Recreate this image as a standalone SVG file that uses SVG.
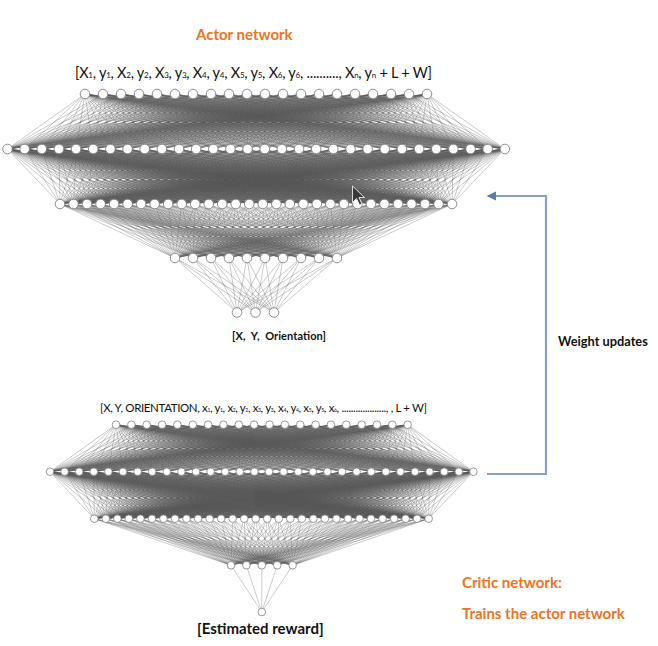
<svg xmlns="http://www.w3.org/2000/svg" width="658" height="646" viewBox="0 0 658 646">
<style>
.e{fill:none;stroke:#5a5a5a;stroke-width:0.32;vector-effect:non-scaling-stroke}
.na circle{fill:#fff;stroke:#808080;stroke-width:0.9}
.nc circle{fill:#fff;stroke:#808080;stroke-width:0.8}
.t{font-family:Lato,"Open Sans","Liberation Sans",sans-serif}
.or{fill:#F07322;font-weight:bold;font-size:15px}
.bk{fill:#111}
.b{font-weight:bold}
</style>
<defs>
<path id="fA2" class="e" d="M0 1L7.5 0M0 1L24.65 0M0 1L41.8 0M0 1L58.95 0M0 1L76.1 0M0 1L93.25 0M0 1L110.4 0M0 1L127.55 0M0 1L144.7 0M0 1L161.85 0M0 1L179 0M0 1L196.15 0M0 1L213.3 0M0 1L230.45 0M0 1L247.6 0M0 1L264.75 0M0 1L281.9 0M0 1L299.05 0M0 1L316.2 0M0 1L333.35 0M0 1L350.5 0M0 1L367.65 0M0 1L384.8 0M0 1L401.95 0M0 1L419.1 0M0 1L436.25 0M0 1L453.4 0M0 1L470.55 0M0 1L487.7 0M0 1L504.85 0"/>
<path id="fA3" class="e" d="M0 1L60 0M0 1L73.52 0M0 1L87.04 0M0 1L100.56 0M0 1L114.08 0M0 1L127.6 0M0 1L141.12 0M0 1L154.64 0M0 1L168.16 0M0 1L181.68 0M0 1L195.2 0M0 1L208.72 0M0 1L222.24 0M0 1L235.76 0M0 1L249.28 0M0 1L262.8 0M0 1L276.32 0M0 1L289.84 0M0 1L303.36 0M0 1L316.88 0M0 1L330.4 0M0 1L343.92 0M0 1L357.44 0M0 1L370.96 0M0 1L384.48 0M0 1L398 0M0 1L411.52 0M0 1L425.04 0M0 1L438.56 0M0 1L452.08 0"/>
<path id="fA4" class="e" d="M0 1L175 0M0 1L193 0M0 1L211 0M0 1L229 0M0 1L247 0M0 1L265 0M0 1L283 0M0 1L301 0M0 1L319 0M0 1L337 0"/>
<path id="fC2" class="e" d="M0 1L50 0M0 1L64.6 0M0 1L79.2 0M0 1L93.8 0M0 1L108.4 0M0 1L123 0M0 1L137.6 0M0 1L152.2 0M0 1L166.8 0M0 1L181.4 0M0 1L196 0M0 1L210.6 0M0 1L225.2 0M0 1L239.8 0M0 1L254.4 0M0 1L269 0M0 1L283.6 0M0 1L298.2 0M0 1L312.8 0M0 1L327.4 0M0 1L342 0M0 1L356.6 0M0 1L371.2 0M0 1L385.8 0M0 1L400.4 0M0 1L415 0M0 1L429.6 0M0 1L444.2 0M0 1L458.8 0M0 1L473.4 0"/>
<path id="fC3" class="e" d="M0 1L94.3 0M0 1L105.83 0M0 1L117.36 0M0 1L128.89 0M0 1L140.42 0M0 1L151.95 0M0 1L163.48 0M0 1L175.01 0M0 1L186.54 0M0 1L198.07 0M0 1L209.6 0M0 1L221.13 0M0 1L232.66 0M0 1L244.19 0M0 1L255.72 0M0 1L267.25 0M0 1L278.78 0M0 1L290.31 0M0 1L301.84 0M0 1L313.37 0M0 1L324.9 0M0 1L336.43 0M0 1L347.96 0M0 1L359.49 0M0 1L371.02 0M0 1L382.55 0M0 1L394.08 0M0 1L405.61 0M0 1L417.14 0M0 1L428.67 0"/>
<path id="fC4" class="e" d="M0 1L231 0M0 1L246.4 0M0 1L261.8 0M0 1L277.2 0M0 1L292.6 0"/>
</defs>
<g id="connectors">
<g id="actor-edges">
<g transform="translate(0 149)">
<use href="#fA2" transform="matrix(1 0 85 -55 0 0)"/><use href="#fA2" transform="matrix(1 0 103 -55 0 0)"/><use href="#fA2" transform="matrix(1 0 121 -55 0 0)"/><use href="#fA2" transform="matrix(1 0 139 -55 0 0)"/><use href="#fA2" transform="matrix(1 0 157 -55 0 0)"/><use href="#fA2" transform="matrix(1 0 175 -55 0 0)"/><use href="#fA2" transform="matrix(1 0 193 -55 0 0)"/><use href="#fA2" transform="matrix(1 0 211 -55 0 0)"/><use href="#fA2" transform="matrix(1 0 229 -55 0 0)"/><use href="#fA2" transform="matrix(1 0 247 -55 0 0)"/><use href="#fA2" transform="matrix(1 0 265 -55 0 0)"/><use href="#fA2" transform="matrix(1 0 283 -55 0 0)"/><use href="#fA2" transform="matrix(1 0 301 -55 0 0)"/><use href="#fA2" transform="matrix(1 0 319 -55 0 0)"/><use href="#fA2" transform="matrix(1 0 337 -55 0 0)"/><use href="#fA2" transform="matrix(1 0 355 -55 0 0)"/><use href="#fA2" transform="matrix(1 0 373 -55 0 0)"/><use href="#fA2" transform="matrix(1 0 391 -55 0 0)"/><use href="#fA2" transform="matrix(1 0 409 -55 0 0)"/><use href="#fA2" transform="matrix(1 0 427 -55 0 0)"/>
<use href="#fA2" transform="matrix(1 0 60 55 0 0)"/><use href="#fA2" transform="matrix(1 0 73.52 55 0 0)"/><use href="#fA2" transform="matrix(1 0 87.04 55 0 0)"/><use href="#fA2" transform="matrix(1 0 100.56 55 0 0)"/><use href="#fA2" transform="matrix(1 0 114.08 55 0 0)"/><use href="#fA2" transform="matrix(1 0 127.6 55 0 0)"/><use href="#fA2" transform="matrix(1 0 141.12 55 0 0)"/><use href="#fA2" transform="matrix(1 0 154.64 55 0 0)"/><use href="#fA2" transform="matrix(1 0 168.16 55 0 0)"/><use href="#fA2" transform="matrix(1 0 181.68 55 0 0)"/><use href="#fA2" transform="matrix(1 0 195.2 55 0 0)"/><use href="#fA2" transform="matrix(1 0 208.72 55 0 0)"/><use href="#fA2" transform="matrix(1 0 222.24 55 0 0)"/><use href="#fA2" transform="matrix(1 0 235.76 55 0 0)"/><use href="#fA2" transform="matrix(1 0 249.28 55 0 0)"/><use href="#fA2" transform="matrix(1 0 262.8 55 0 0)"/><use href="#fA2" transform="matrix(1 0 276.32 55 0 0)"/><use href="#fA2" transform="matrix(1 0 289.84 55 0 0)"/><use href="#fA2" transform="matrix(1 0 303.36 55 0 0)"/><use href="#fA2" transform="matrix(1 0 316.88 55 0 0)"/><use href="#fA2" transform="matrix(1 0 330.4 55 0 0)"/><use href="#fA2" transform="matrix(1 0 343.92 55 0 0)"/><use href="#fA2" transform="matrix(1 0 357.44 55 0 0)"/><use href="#fA2" transform="matrix(1 0 370.96 55 0 0)"/><use href="#fA2" transform="matrix(1 0 384.48 55 0 0)"/><use href="#fA2" transform="matrix(1 0 398 55 0 0)"/><use href="#fA2" transform="matrix(1 0 411.52 55 0 0)"/><use href="#fA2" transform="matrix(1 0 425.04 55 0 0)"/><use href="#fA2" transform="matrix(1 0 438.56 55 0 0)"/><use href="#fA2" transform="matrix(1 0 452.08 55 0 0)"/>
</g>
<g transform="translate(0 204)">
<use href="#fA3" transform="matrix(1 0 175 54 0 0)"/><use href="#fA3" transform="matrix(1 0 193 54 0 0)"/><use href="#fA3" transform="matrix(1 0 211 54 0 0)"/><use href="#fA3" transform="matrix(1 0 229 54 0 0)"/><use href="#fA3" transform="matrix(1 0 247 54 0 0)"/><use href="#fA3" transform="matrix(1 0 265 54 0 0)"/><use href="#fA3" transform="matrix(1 0 283 54 0 0)"/><use href="#fA3" transform="matrix(1 0 301 54 0 0)"/><use href="#fA3" transform="matrix(1 0 319 54 0 0)"/><use href="#fA3" transform="matrix(1 0 337 54 0 0)"/>
</g>
<g transform="translate(0 258)">
<use href="#fA4" transform="matrix(1 0 237 54.5 0 0)"/><use href="#fA4" transform="matrix(1 0 255.5 54.5 0 0)"/><use href="#fA4" transform="matrix(1 0 274 54.5 0 0)"/>
</g>
</g>
<g id="critic-edges">
<g transform="translate(0 471.7)">
<use href="#fC2" transform="matrix(1 0 116 -47 0 0)"/><use href="#fC2" transform="matrix(1 0 131.35 -47 0 0)"/><use href="#fC2" transform="matrix(1 0 146.7 -47 0 0)"/><use href="#fC2" transform="matrix(1 0 162.05 -47 0 0)"/><use href="#fC2" transform="matrix(1 0 177.4 -47 0 0)"/><use href="#fC2" transform="matrix(1 0 192.75 -47 0 0)"/><use href="#fC2" transform="matrix(1 0 208.1 -47 0 0)"/><use href="#fC2" transform="matrix(1 0 223.45 -47 0 0)"/><use href="#fC2" transform="matrix(1 0 238.8 -47 0 0)"/><use href="#fC2" transform="matrix(1 0 254.15 -47 0 0)"/><use href="#fC2" transform="matrix(1 0 269.5 -47 0 0)"/><use href="#fC2" transform="matrix(1 0 284.85 -47 0 0)"/><use href="#fC2" transform="matrix(1 0 300.2 -47 0 0)"/><use href="#fC2" transform="matrix(1 0 315.55 -47 0 0)"/><use href="#fC2" transform="matrix(1 0 330.9 -47 0 0)"/><use href="#fC2" transform="matrix(1 0 346.25 -47 0 0)"/><use href="#fC2" transform="matrix(1 0 361.6 -47 0 0)"/><use href="#fC2" transform="matrix(1 0 376.95 -47 0 0)"/><use href="#fC2" transform="matrix(1 0 392.3 -47 0 0)"/><use href="#fC2" transform="matrix(1 0 407.65 -47 0 0)"/>
<use href="#fC2" transform="matrix(1 0 94.3 47 0 0)"/><use href="#fC2" transform="matrix(1 0 105.83 47 0 0)"/><use href="#fC2" transform="matrix(1 0 117.36 47 0 0)"/><use href="#fC2" transform="matrix(1 0 128.89 47 0 0)"/><use href="#fC2" transform="matrix(1 0 140.42 47 0 0)"/><use href="#fC2" transform="matrix(1 0 151.95 47 0 0)"/><use href="#fC2" transform="matrix(1 0 163.48 47 0 0)"/><use href="#fC2" transform="matrix(1 0 175.01 47 0 0)"/><use href="#fC2" transform="matrix(1 0 186.54 47 0 0)"/><use href="#fC2" transform="matrix(1 0 198.07 47 0 0)"/><use href="#fC2" transform="matrix(1 0 209.6 47 0 0)"/><use href="#fC2" transform="matrix(1 0 221.13 47 0 0)"/><use href="#fC2" transform="matrix(1 0 232.66 47 0 0)"/><use href="#fC2" transform="matrix(1 0 244.19 47 0 0)"/><use href="#fC2" transform="matrix(1 0 255.72 47 0 0)"/><use href="#fC2" transform="matrix(1 0 267.25 47 0 0)"/><use href="#fC2" transform="matrix(1 0 278.78 47 0 0)"/><use href="#fC2" transform="matrix(1 0 290.31 47 0 0)"/><use href="#fC2" transform="matrix(1 0 301.84 47 0 0)"/><use href="#fC2" transform="matrix(1 0 313.37 47 0 0)"/><use href="#fC2" transform="matrix(1 0 324.9 47 0 0)"/><use href="#fC2" transform="matrix(1 0 336.43 47 0 0)"/><use href="#fC2" transform="matrix(1 0 347.96 47 0 0)"/><use href="#fC2" transform="matrix(1 0 359.49 47 0 0)"/><use href="#fC2" transform="matrix(1 0 371.02 47 0 0)"/><use href="#fC2" transform="matrix(1 0 382.55 47 0 0)"/><use href="#fC2" transform="matrix(1 0 394.08 47 0 0)"/><use href="#fC2" transform="matrix(1 0 405.61 47 0 0)"/><use href="#fC2" transform="matrix(1 0 417.14 47 0 0)"/><use href="#fC2" transform="matrix(1 0 428.67 47 0 0)"/>
</g>
<g transform="translate(0 518.7)">
<use href="#fC3" transform="matrix(1 0 231 46.6 0 0)"/><use href="#fC3" transform="matrix(1 0 246.4 46.6 0 0)"/><use href="#fC3" transform="matrix(1 0 261.8 46.6 0 0)"/><use href="#fC3" transform="matrix(1 0 277.2 46.6 0 0)"/><use href="#fC3" transform="matrix(1 0 292.6 46.6 0 0)"/>
</g>
<g transform="translate(0 565.3)">
<use href="#fC4" transform="matrix(1 0 261.8 46.7 0 0)"/>
</g>
</g>
<g id="weight-updates-arrow">
<path d="M487 474H546V196H495" fill="none" stroke="#8A9FC0" stroke-width="2.2"/>
<polygon points="486.5,196 496,191.5 496,200.5" fill="#5B7BA8"/>
</g>
</g>
<g id="actor-input-layer" class="na" transform="translate(0 94)">
<circle cx="85" r="4.8"/><circle cx="103" r="4.8"/><circle cx="121" r="4.8"/><circle cx="139" r="4.8"/><circle cx="157" r="4.8"/><circle cx="175" r="4.8"/><circle cx="193" r="4.8"/><circle cx="211" r="4.8"/><circle cx="229" r="4.8"/><circle cx="247" r="4.8"/><circle cx="265" r="4.8"/><circle cx="283" r="4.8"/><circle cx="301" r="4.8"/><circle cx="319" r="4.8"/><circle cx="337" r="4.8"/><circle cx="355" r="4.8"/><circle cx="373" r="4.8"/><circle cx="391" r="4.8"/><circle cx="409" r="4.8"/><circle cx="427" r="4.8"/>
</g>
<g id="actor-hidden-1" class="na" transform="translate(0 149)">
<circle cx="7.5" r="4.8"/><circle cx="24.65" r="4.8"/><circle cx="41.8" r="4.8"/><circle cx="58.95" r="4.8"/><circle cx="76.1" r="4.8"/><circle cx="93.25" r="4.8"/><circle cx="110.4" r="4.8"/><circle cx="127.55" r="4.8"/><circle cx="144.7" r="4.8"/><circle cx="161.85" r="4.8"/><circle cx="179" r="4.8"/><circle cx="196.15" r="4.8"/><circle cx="213.3" r="4.8"/><circle cx="230.45" r="4.8"/><circle cx="247.6" r="4.8"/><circle cx="264.75" r="4.8"/><circle cx="281.9" r="4.8"/><circle cx="299.05" r="4.8"/><circle cx="316.2" r="4.8"/><circle cx="333.35" r="4.8"/><circle cx="350.5" r="4.8"/><circle cx="367.65" r="4.8"/><circle cx="384.8" r="4.8"/><circle cx="401.95" r="4.8"/><circle cx="419.1" r="4.8"/><circle cx="436.25" r="4.8"/><circle cx="453.4" r="4.8"/><circle cx="470.55" r="4.8"/><circle cx="487.7" r="4.8"/><circle cx="504.85" r="4.8"/>
</g>
<g id="actor-hidden-2" class="na" transform="translate(0 204)">
<circle cx="60" r="4.8"/><circle cx="73.52" r="4.8"/><circle cx="87.04" r="4.8"/><circle cx="100.56" r="4.8"/><circle cx="114.08" r="4.8"/><circle cx="127.6" r="4.8"/><circle cx="141.12" r="4.8"/><circle cx="154.64" r="4.8"/><circle cx="168.16" r="4.8"/><circle cx="181.68" r="4.8"/><circle cx="195.2" r="4.8"/><circle cx="208.72" r="4.8"/><circle cx="222.24" r="4.8"/><circle cx="235.76" r="4.8"/><circle cx="249.28" r="4.8"/><circle cx="262.8" r="4.8"/><circle cx="276.32" r="4.8"/><circle cx="289.84" r="4.8"/><circle cx="303.36" r="4.8"/><circle cx="316.88" r="4.8"/><circle cx="330.4" r="4.8"/><circle cx="343.92" r="4.8"/><circle cx="357.44" r="4.8"/><circle cx="370.96" r="4.8"/><circle cx="384.48" r="4.8"/><circle cx="398" r="4.8"/><circle cx="411.52" r="4.8"/><circle cx="425.04" r="4.8"/><circle cx="438.56" r="4.8"/><circle cx="452.08" r="4.8"/>
</g>
<g id="actor-hidden-3" class="na" transform="translate(0 258)">
<circle cx="175" r="4.8"/><circle cx="193" r="4.8"/><circle cx="211" r="4.8"/><circle cx="229" r="4.8"/><circle cx="247" r="4.8"/><circle cx="265" r="4.8"/><circle cx="283" r="4.8"/><circle cx="301" r="4.8"/><circle cx="319" r="4.8"/><circle cx="337" r="4.8"/>
</g>
<g id="actor-output-layer" class="na" transform="translate(0 312.5)">
<circle cx="237" r="4.8"/><circle cx="255.5" r="4.8"/><circle cx="274" r="4.8"/>
</g>
<g id="critic-input-layer" class="nc" transform="translate(0 424.7)">
<circle cx="116" r="3.8"/><circle cx="131.35" r="3.8"/><circle cx="146.7" r="3.8"/><circle cx="162.05" r="3.8"/><circle cx="177.4" r="3.8"/><circle cx="192.75" r="3.8"/><circle cx="208.1" r="3.8"/><circle cx="223.45" r="3.8"/><circle cx="238.8" r="3.8"/><circle cx="254.15" r="3.8"/><circle cx="269.5" r="3.8"/><circle cx="284.85" r="3.8"/><circle cx="300.2" r="3.8"/><circle cx="315.55" r="3.8"/><circle cx="330.9" r="3.8"/><circle cx="346.25" r="3.8"/><circle cx="361.6" r="3.8"/><circle cx="376.95" r="3.8"/><circle cx="392.3" r="3.8"/><circle cx="407.65" r="3.8"/>
</g>
<g id="critic-hidden-1" class="nc" transform="translate(0 471.7)">
<circle cx="50" r="3.8"/><circle cx="64.6" r="3.8"/><circle cx="79.2" r="3.8"/><circle cx="93.8" r="3.8"/><circle cx="108.4" r="3.8"/><circle cx="123" r="3.8"/><circle cx="137.6" r="3.8"/><circle cx="152.2" r="3.8"/><circle cx="166.8" r="3.8"/><circle cx="181.4" r="3.8"/><circle cx="196" r="3.8"/><circle cx="210.6" r="3.8"/><circle cx="225.2" r="3.8"/><circle cx="239.8" r="3.8"/><circle cx="254.4" r="3.8"/><circle cx="269" r="3.8"/><circle cx="283.6" r="3.8"/><circle cx="298.2" r="3.8"/><circle cx="312.8" r="3.8"/><circle cx="327.4" r="3.8"/><circle cx="342" r="3.8"/><circle cx="356.6" r="3.8"/><circle cx="371.2" r="3.8"/><circle cx="385.8" r="3.8"/><circle cx="400.4" r="3.8"/><circle cx="415" r="3.8"/><circle cx="429.6" r="3.8"/><circle cx="444.2" r="3.8"/><circle cx="458.8" r="3.8"/><circle cx="473.4" r="3.8"/>
</g>
<g id="critic-hidden-2" class="nc" transform="translate(0 518.7)">
<circle cx="94.3" r="3.8"/><circle cx="105.83" r="3.8"/><circle cx="117.36" r="3.8"/><circle cx="128.89" r="3.8"/><circle cx="140.42" r="3.8"/><circle cx="151.95" r="3.8"/><circle cx="163.48" r="3.8"/><circle cx="175.01" r="3.8"/><circle cx="186.54" r="3.8"/><circle cx="198.07" r="3.8"/><circle cx="209.6" r="3.8"/><circle cx="221.13" r="3.8"/><circle cx="232.66" r="3.8"/><circle cx="244.19" r="3.8"/><circle cx="255.72" r="3.8"/><circle cx="267.25" r="3.8"/><circle cx="278.78" r="3.8"/><circle cx="290.31" r="3.8"/><circle cx="301.84" r="3.8"/><circle cx="313.37" r="3.8"/><circle cx="324.9" r="3.8"/><circle cx="336.43" r="3.8"/><circle cx="347.96" r="3.8"/><circle cx="359.49" r="3.8"/><circle cx="371.02" r="3.8"/><circle cx="382.55" r="3.8"/><circle cx="394.08" r="3.8"/><circle cx="405.61" r="3.8"/><circle cx="417.14" r="3.8"/><circle cx="428.67" r="3.8"/>
</g>
<g id="critic-hidden-3" class="nc" transform="translate(0 565.3)">
<circle cx="231" r="3.8"/><circle cx="246.4" r="3.8"/><circle cx="261.8" r="3.8"/><circle cx="277.2" r="3.8"/><circle cx="292.6" r="3.8"/>
</g>
<g id="critic-output-layer" class="nc">
<circle cx="261.8" cy="612" r="3.8"/>
</g>
<polygon id="cursor" points="352.5,186 352.5,202.5 356.5,198.5 359.5,205 362,204 359,197.5 364.5,197.5" fill="#3a3a3a" stroke="#fff" stroke-width="0.8"/>
<g id="labels" class="t">
<text class="or" x="196" y="40">Actor network</text>
<text class="bk" x="75" y="78" font-size="14.5" textLength="357" lengthAdjust="spacing">[X<tspan font-size="8">1</tspan>, y<tspan font-size="8">1</tspan>, X<tspan font-size="8">2</tspan>, y<tspan font-size="8">2</tspan>, X<tspan font-size="8">3</tspan>, y<tspan font-size="8">3</tspan>, X<tspan font-size="8">4</tspan>, y<tspan font-size="8">4</tspan>, X<tspan font-size="8">5</tspan>, y<tspan font-size="8">5</tspan>, X<tspan font-size="8">6</tspan>, y<tspan font-size="8">6</tspan>, ..........,  X<tspan font-size="8">n</tspan>, y<tspan font-size="8">n</tspan> + L + W]</text>
<text class="bk b" x="232" y="340" font-size="11" textLength="94" lengthAdjust="spacing" xml:space="preserve">[X,  Y,  Orientation]</text>
<text class="bk" x="100" y="412" font-size="11.5" textLength="327" lengthAdjust="spacing">[X, Y, ORIENTATION, x<tspan font-size="5">1</tspan>, y<tspan font-size="5">1</tspan>, x<tspan font-size="5">2</tspan>, y<tspan font-size="5">2</tspan>, x<tspan font-size="5">3</tspan>, y<tspan font-size="5">3</tspan>, x<tspan font-size="5">4</tspan>, y<tspan font-size="5">4</tspan>, x<tspan font-size="5">5</tspan>, y<tspan font-size="5">5</tspan>, x<tspan font-size="5">6</tspan>, ..................., , L + W]</text>
<text class="bk b" x="558" y="346" font-size="12.8">Weight updates</text>
<text class="or" x="462" y="588">Critic network:</text>
<text class="or" x="462" y="619">Trains the actor network</text>
<text class="bk b" x="197" y="634" font-size="15">[Estimated reward]</text>
</g>
</svg>
